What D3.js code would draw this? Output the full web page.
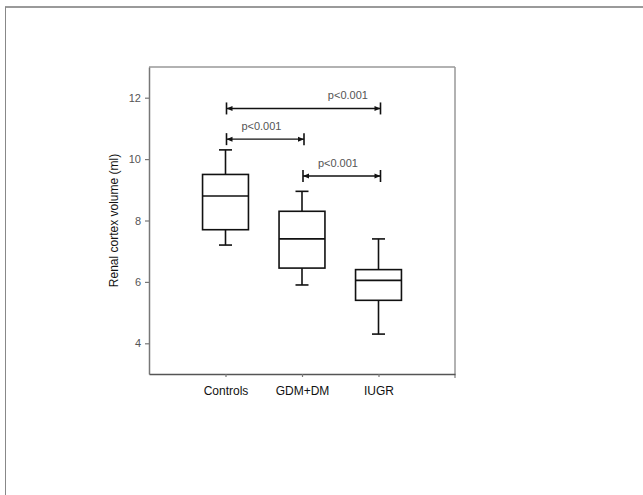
<!DOCTYPE html>
<html>
<head>
<meta charset="utf-8">
<script src="https://cdn.jsdelivr.net/npm/d3@7/dist/d3.min.js"></script>
<style>
  html, body { margin: 0; padding: 0; background: #fff; }
  svg { display: block; font-family: "Liberation Sans", Arial, sans-serif; }
</style>
</head>
<body>
<svg id="chart" width="643" height="495"></svg>
<script>
// Groups and their box-plot summaries (ml)
const categories = ["Controls", "GDM+DM", "IUGR"];
const whiskerLow  = [7.2, 5.9, 4.3];
const quartile1   = [7.7, 6.45, 5.4];
const medians     = [8.8, 7.4, 6.05];
const quartile3   = [9.5, 8.3, 6.4];
const whiskerHigh = [10.3, 8.95, 7.4];

// Pairwise comparisons: group indices, bracket height, label
const compareFrom  = [0, 0, 1];
const compareTo    = [2, 1, 2];
const compareLevel = [11.65, 10.65, 9.45];
const compareText  = ["p<0.001", "p<0.001", "p<0.001"];
const compareLabelAt = [2.6, 1.47, 2.47];

const yTicks = [4, 6, 8, 10, 12];
const yTitle = "Renal cortex volume (ml)";

const svg = d3.select("#chart");

// Outer page frame (top and left rules)
svg.append("line").attr("x1", 5).attr("x2", 643).attr("y1", 7).attr("y2", 7)
  .attr("stroke", "#9a9a9a").attr("stroke-width", 2);
svg.append("line").attr("x1", 5.5).attr("x2", 5.5).attr("y1", 7).attr("y2", 495)
  .attr("stroke", "#888").attr("stroke-width", 1);

const x = d3.scaleLinear().domain([0, 4]).range([149, 455]);
const y = d3.scaleLinear().domain([3, 13]).range([374, 67]);

// Top and right sides of the plot frame
svg.append("line").attr("x1", x(0)).attr("x2", x(4)).attr("y1", y(13)).attr("y2", y(13))
  .attr("stroke", "#999").attr("stroke-width", 1.5);
svg.append("line").attr("x1", x(4)).attr("x2", x(4)).attr("y1", y(13)).attr("y2", y(3) + 4)
  .attr("stroke", "#999").attr("stroke-width", 1.5);

// Y axis
const yAxis = svg.append("g")
  .attr("transform", `translate(${x(0)},0)`)
  .call(d3.axisLeft(y).tickValues(yTicks).tickSize(4).tickSizeOuter(0).tickPadding(4));
yAxis.select(".domain").attr("stroke", "#777").attr("stroke-width", 1.5);
yAxis.selectAll(".tick line").attr("stroke", "#777").attr("stroke-width", 1.2);
yAxis.selectAll(".tick text").attr("fill", "#555").attr("font-size", 11)
  .attr("font-family", "Liberation Sans, Arial, sans-serif");

// X axis
const xAxis = svg.append("g")
  .attr("transform", `translate(0,${y(3)})`)
  .call(d3.axisBottom(x).tickValues([1, 2, 3]).tickFormat(d => categories[d - 1])
    .tickSize(3).tickSizeOuter(0).tickPadding(9));
xAxis.select(".domain").attr("stroke", "#555").attr("stroke-width", 1.5);
xAxis.selectAll(".tick line").attr("stroke", "#777").attr("stroke-width", 1.2);
xAxis.selectAll(".tick text").attr("fill", "#111").attr("font-size", 12)
  .attr("font-family", "Liberation Sans, Arial, sans-serif");

// Y title
svg.append("text")
  .attr("transform", `translate(118,${(y(3) + y(13)) / 2}) rotate(-90)`)
  .attr("text-anchor", "middle")
  .attr("font-size", 12).attr("fill", "#111")
  .text(yTitle);

// Box plots
const boxHalf = 0.3, capHalf = 0.085;
const boxes = svg.append("g").attr("stroke", "#111").attr("stroke-width", 1.6).attr("fill", "none");
categories.forEach((c, i) => {
  const cx = i + 1;
  const g = boxes.append("g");
  // whiskers
  g.append("line").attr("x1", x(cx)).attr("x2", x(cx)).attr("y1", y(quartile3[i])).attr("y2", y(whiskerHigh[i]));
  g.append("line").attr("x1", x(cx)).attr("x2", x(cx)).attr("y1", y(quartile1[i])).attr("y2", y(whiskerLow[i]));
  g.append("line").attr("x1", x(cx - capHalf)).attr("x2", x(cx + capHalf)).attr("y1", y(whiskerHigh[i])).attr("y2", y(whiskerHigh[i]));
  g.append("line").attr("x1", x(cx - capHalf)).attr("x2", x(cx + capHalf)).attr("y1", y(whiskerLow[i])).attr("y2", y(whiskerLow[i]));
  // box
  g.append("rect").attr("x", x(cx - boxHalf)).attr("width", x(cx + boxHalf) - x(cx - boxHalf))
    .attr("y", y(quartile3[i])).attr("height", y(quartile1[i]) - y(quartile3[i]))
    .attr("fill", "#fff");
  // median
  g.append("line").attr("x1", x(cx - boxHalf)).attr("x2", x(cx + boxHalf)).attr("y1", y(medians[i])).attr("y2", y(medians[i]));
});

// Significance brackets
const sig = svg.append("g");
compareFrom.forEach((a, k) => {
  const x1 = x(a + 1) + 1, x2 = x(compareTo[k] + 1) + 2, yy = y(compareLevel[k]);
  sig.append("line").attr("x1", x1).attr("x2", x2).attr("y1", yy).attr("y2", yy)
    .attr("stroke", "#111").attr("stroke-width", 1.4);
  [x1, x2].forEach(xx => {
    sig.append("line").attr("x1", xx).attr("x2", xx).attr("y1", yy - 6).attr("y2", yy + 6)
      .attr("stroke", "#111").attr("stroke-width", 1.6);
  });
  // arrowheads pointing to each end cap
  sig.append("path").attr("d", `M${x1},${yy} l6,-2.5 l0,5 z`).attr("fill", "#111");
  sig.append("path").attr("d", `M${x2},${yy} l-6,-2.5 l0,5 z`).attr("fill", "#111");
  sig.append("text")
    .attr("x", x(compareLabelAt[k])).attr("y", yy - 9)
    .attr("text-anchor", "middle").attr("font-size", 11).attr("fill", "#555")
    .text(compareText[k]);
});
</script>
</body>
</html>
